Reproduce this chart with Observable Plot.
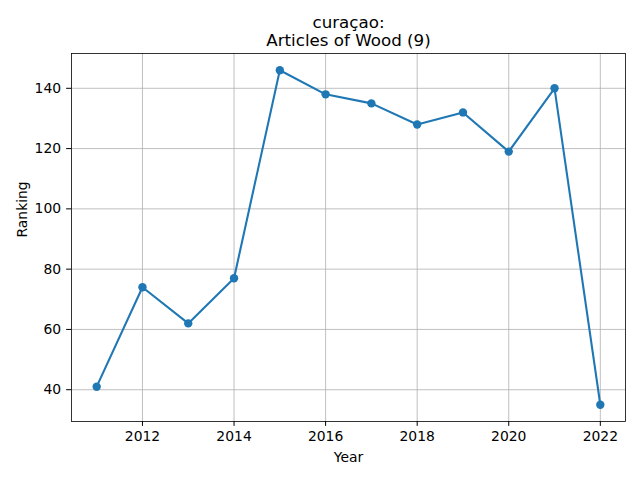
<!DOCTYPE html>
<html>
<head>
<meta charset="utf-8">
<script src="https://cdn.jsdelivr.net/npm/d3@7"></script>
<script src="https://cdn.jsdelivr.net/npm/@observablehq/plot@0.6"></script>
<style>
  body { margin: 0; background: white; }
</style>
</head>
<body>
<div id="chart"></div>
<script>
const years = [2011, 2012, 2013, 2014, 2015, 2016, 2017, 2018, 2019, 2020, 2021, 2022];
const ranking = [41, 74, 62, 77, 146, 138, 135, 128, 132, 119, 140, 35];
const xTicks = [2012, 2014, 2016, 2018, 2020, 2022];
const yTicks = [40, 60, 80, 100, 120, 140];
const titleLines = ["curaçao:", "Articles of Wood (9)"];
const xLabel = "Year";
const yLabel = "Ranking";

const data = years.map((year, i) => ({year, rank: ranking[i]}));

const chart = Plot.plot({
  width: 640,
  height: 480,
  marginLeft: 71,
  marginRight: 15,
  marginTop: 53,
  marginBottom: 59,
  style: {fontFamily: "DejaVu Sans", fontSize: "13.9px", color: "black", background: "white"},
  x: {domain: [2010.45, 2022.55]},
  y: {domain: [29.45, 151.55]},
  marks: [
    Plot.gridX(xTicks, {stroke: "#b0b0b0", strokeOpacity: 1, strokeWidth: 0.8}),
    Plot.gridY(yTicks, {stroke: "#b0b0b0", strokeOpacity: 1, strokeWidth: 0.8}),
    Plot.axisX(xTicks, {tickSize: 4.9, tickPadding: 5, label: null, tickFormat: d => String(d), fontSize: "13.9px"}),
    Plot.axisY(yTicks, {tickSize: 4.9, tickPadding: 5.5, label: null, fontSize: "13.9px"}),
    Plot.line(data, {x: "year", y: "rank", stroke: "#1f77b4", strokeWidth: 2.08}),
    Plot.dot(data, {x: "year", y: "rank", fill: "#1f77b4", r: 4.2}),
    Plot.frame({stroke: "black", strokeWidth: 0.8}),
    Plot.text([xLabel], {text: d => d, frameAnchor: "bottom", lineAnchor: "middle", dy: 36, fontSize: "13.9px"}),
    Plot.text([yLabel], {text: d => d, frameAnchor: "left", lineAnchor: "middle", dx: -49, rotate: -90, fontSize: "13.9px"}),
    // both title lines in one text element
    Plot.text([titleLines.join("\n")], {text: d => d, frameAnchor: "top", lineAnchor: "middle", lineHeight: 1.08, dy: -22, fontSize: "16.7px"})
  ]
});

document.getElementById("chart").append(chart);
</script>
</body>
</html>
